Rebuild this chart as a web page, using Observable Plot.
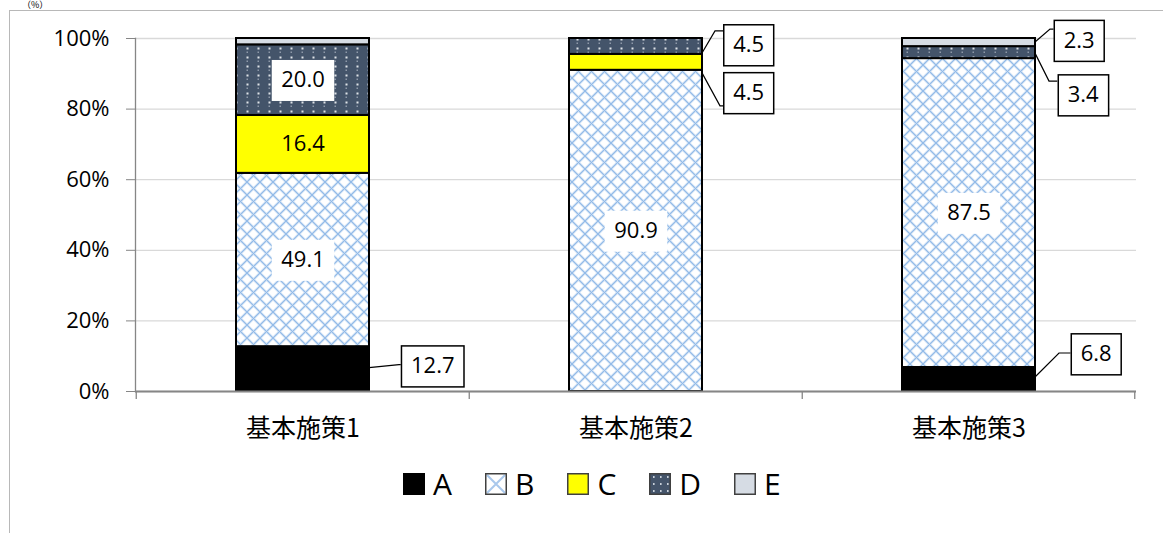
<!DOCTYPE html>
<html><head><meta charset="utf-8">
<script src="https://cdn.jsdelivr.net/npm/d3@7"></script>
<script src="https://cdn.jsdelivr.net/npm/@observablehq/plot@0.6"></script>
<style>
html,body{margin:0;padding:0;background:#fff}
body{width:1163px;height:533px;overflow:hidden;position:relative;font-family:"Open Sans","Noto Sans CJK JP",sans-serif}
#frame{position:absolute;left:9px;top:10px;width:1220px;height:600px;border:1.5px solid #b8b8b8;box-sizing:border-box}
#unit{position:absolute;left:22px;top:0px;font:9px "Noto Sans CJK JP";line-height:10px;color:#000}
#chart{position:absolute;left:0;top:0}
#legend{position:absolute;left:403px;top:467px;display:flex;align-items:center;font-size:30px;line-height:34px;color:#000}
.item{display:flex;align-items:center;margin-right:33px}
.item svg{margin-right:8px}
</style></head>
<body>
<svg width="0" height="0" style="position:absolute">
 <defs>
  <pattern id="patB" width="13" height="13" patternUnits="userSpaceOnUse">
   <rect width="13" height="13" fill="#ffffff"/>
   <path d="M0,0L13,13M13,0L0,13" stroke="#c3d9f2" stroke-width="2.4"/>
   <path d="M0,0L13,13M13,0L0,13" stroke="#8db8e6" stroke-width="0.9"/>
  </pattern>
  <pattern id="patD" width="11" height="9" patternUnits="userSpaceOnUse">
   <rect width="11" height="9" fill="#44546a"/>
   <rect x="4.5" y="2.5" width="2" height="2" fill="#dfe3e8"/>
   <rect x="4.5" y="6.5" width="1.5" height="1.5" fill="#8d98a8"/>
  </pattern>
  <pattern id="patBL" width="22" height="22" patternUnits="userSpaceOnUse">
   <rect width="22" height="22" fill="#ffffff"/>
   <path d="M2,2L20,20M20,2L2,20" stroke="#a9c8ec" stroke-width="2"/>
  </pattern>
  <pattern id="patDL" width="7" height="7" patternUnits="userSpaceOnUse" x="1" y="1">
   <rect width="7" height="7" fill="#44546a"/>
   <rect x="3" y="2" width="1.6" height="2" fill="#c9d0d9"/>
  </pattern>
 </defs>
</svg>
<div id="frame"></div>
<div id="unit">（%）</div>
<div id="chart"></div>
<div id="legend"></div>
<script>
// ---- data ----
const categories = ["基本施策1", "基本施策2", "基本施策3"];
const seriesNames = ["A", "B", "C", "D", "E"];
const valuesA = [12.7, 0, 6.8];
const valuesB = [49.1, 90.9, 87.5];
const valuesC = [16.4, 4.5, 0];
const valuesD = [20.0, 4.5, 3.4];
const valuesE = [1.8, 0, 2.3];
const yTicks = [0, 20, 40, 60, 80, 100];

// ---- styles ----
const seriesValues = [valuesA, valuesB, valuesC, valuesD, valuesE];
const fills = {A: "#000000", B: "url(#patB)", C: "#ffff00", D: "url(#patD)", E: "#d6dce4"};
const legendFills = {A: "#000000", B: "url(#patBL)", C: "#ffff00", D: "url(#patDL)", E: "#d6dce4"};
const labelLayout = {
  "基本施策1|A": {kind: "outer", dx: 63, dy: -3, leader: [-1, 30, -4]},
  "基本施策1|B": {kind: "box"},
  "基本施策1|C": {kind: "plain"},
  "基本施策1|D": {kind: "box"},
  "基本施策2|B": {kind: "box"},
  "基本施策2|C": {kind: "outer", dx: 46, dy: 30.5, leader: [11, 18, 44]},
  "基本施策2|D": {kind: "outer", dx: 46, dy: -1.5, leader: [7, 13, -15]},
  "基本施策3|A": {kind: "outer", dx: 60.5, dy: -25.5, leader: [-2, 24, -26]},
  "基本施策3|B": {kind: "box"},
  "基本施策3|D": {kind: "outer", dx: 47.5, dy: 42.4, leader: [1, 14, 29]},
  "基本施策3|E": {kind: "outer", dx: 43.5, dy: -2, leader: [0, 15, -13]}
};

const W = 1163, H = 450, mL = 135, mR = 27, mT = 38, mB = 59;
const xOpts = {type: "band", domain: categories, paddingInner: 0.6, paddingOuter: 0.3};
const xPre = Plot.scale({x: {...xOpts, range: [mL, W - mR]}});
const bw = xPre.bandwidth;

const data = [];
categories.forEach((c, i) => seriesNames.forEach((s, j) => {
  const v = seriesValues[j][i];
  if (v > 0) data.push({cat: c, series: s, value: v});
}));

const labels = [];
categories.forEach((c, i) => {
  const tot = d3.sum(seriesValues, a => a[i]);
  let cum = 0;
  seriesNames.forEach((s, j) => {
    const v = seriesValues[j][i];
    const mid = (cum + v / 2) / tot;
    cum += v;
    const st = labelLayout[c + "|" + s];
    if (st && v > 0) labels.push({cat: c, series: s, value: v, mid, str: v.toFixed(1), ...st});
  });
});

const textMarks = labels.map(lab => Plot.text([lab], {
  x: "cat", y: "mid", text: "str",
  dx: lab.kind === "outer" ? bw / 2 + lab.dx : 0,
  dy: lab.dy || 0,
  fontSize: 22, fill: "black"
}));

const chart = Plot.plot({
  width: W, height: H,
  marginLeft: mL, marginRight: mR, marginTop: mT, marginBottom: mB,
  style: {fontFamily: '"Open Sans","Noto Sans CJK JP",sans-serif', fontSize: "22px", color: "black", background: "transparent", overflow: "visible"},
  x: {...xOpts, label: null},
  y: {domain: [0, 1], label: null},
  color: {type: "identity"},
  marks: [
    Plot.gridY(yTicks.map(v => v / 100), {stroke: "#d9d9d9", strokeOpacity: 1, strokeWidth: 1.3}),
    Plot.barY(data, Plot.stackY({
      offset: "normalize", x: "cat", y: "value", z: "series",
      fill: d => fills[d.series], stroke: "black", strokeWidth: 2
    })),
    Plot.axisY(yTicks.map(v => v / 100), {
      tickFormat: d3.format(".0%"), tickSize: 9, tickPadding: 17,
      stroke: "#868686", fill: "black", fontSize: 22, label: null
    }),
    Plot.frame({anchor: "left", stroke: "#868686", strokeWidth: 1.3}),
    Plot.ruleY([0], {stroke: "#868686", strokeWidth: 2}),
    Plot.axisX({tickSize: 0, tickPadding: 28, fontSize: 25, fill: "black", label: null,
      fontFamily: '"Noto Sans CJK JP",sans-serif'}),
    ...textMarks
  ]
});
document.getElementById("chart").appendChild(chart);

// ---- post-process: label boxes, leader lines, category boundary ticks ----
const svg = d3.select(chart);
const sx = chart.scale("x"), sy = chart.scale("y");
const xpos = c => (sx && sx.apply) ? sx.apply(c) : xPre.apply(c);
const ypos = v => sy.apply(v);
const band = (sx && sx.bandwidth) || bw;
const NS = "http://www.w3.org/2000/svg";

const allTexts = Array.from(chart.querySelectorAll("text"));
const used = new Set();
labels.forEach(lab => {
  const t = allTexts.find(e => !used.has(e) && e.textContent.trim() === lab.str);
  if (!t) return;
  used.add(t);
  const bb = t.getBBox();
  const padX = 9.5, bh = 41;
  const w = bb.width + 2 * padX;
  const ay = parseFloat(t.getAttribute("y") || 0);
  if (lab.kind !== "plain") {
    const r = document.createElementNS(NS, "rect");
    r.setAttribute("x", bb.x - padX);
    r.setAttribute("y", ay - bh / 2);
    r.setAttribute("width", w);
    r.setAttribute("height", bh);
    r.setAttribute("fill", "white");
    if (lab.kind === "outer") { r.setAttribute("stroke", "black"); r.setAttribute("stroke-width", 1.5); }
    if (t.getAttribute("transform")) r.setAttribute("transform", t.getAttribute("transform"));
    t.parentNode.insertBefore(r, t);
  }
  if (lab.kind === "outer") {
    const bx = xpos(lab.cat) + band;
    const my = ypos(lab.mid);
    const boxLeft = bx + lab.dx - w / 2;
    const [s0, ex, ey] = lab.leader;
    const p = document.createElementNS(NS, "path");
    p.setAttribute("d", `M${bx},${my + s0}L${bx + ex},${my + ey}L${boxLeft},${my + ey}`);
    p.setAttribute("fill", "none");
    p.setAttribute("stroke", "black");
    p.setAttribute("stroke-width", 1.2);
    const g = t.closest("g");
    g.parentNode.insertBefore(p, g);
  }
});

const step = band / (1 - 0.6);
const y0 = ypos(0);
const bounds = categories.map(c => xpos(c) - step * 0.3);
bounds.push(xpos(categories[categories.length - 1]) + band + step * 0.3);
bounds.forEach(bx => {
  svg.append("line").attr("x1", bx).attr("x2", bx).attr("y1", y0).attr("y2", y0 + 8)
    .attr("stroke", "#868686").attr("stroke-width", 1.3);
});

// ---- legend ----
const legend = d3.select("#legend");
seriesNames.forEach(s => {
  const it = legend.append("div").attr("class", "item");
  const sw = it.append("svg").attr("width", 22).attr("height", 22);
  sw.append("rect").attr("x", 0.75).attr("y", 0.75).attr("width", 20.5).attr("height", 20.5)
    .attr("fill", legendFills[s]).attr("stroke", s === "A" ? "#000" : "#404040").attr("stroke-width", 1.5);
  it.append("span").text(s);
});
</script>
</body></html>
